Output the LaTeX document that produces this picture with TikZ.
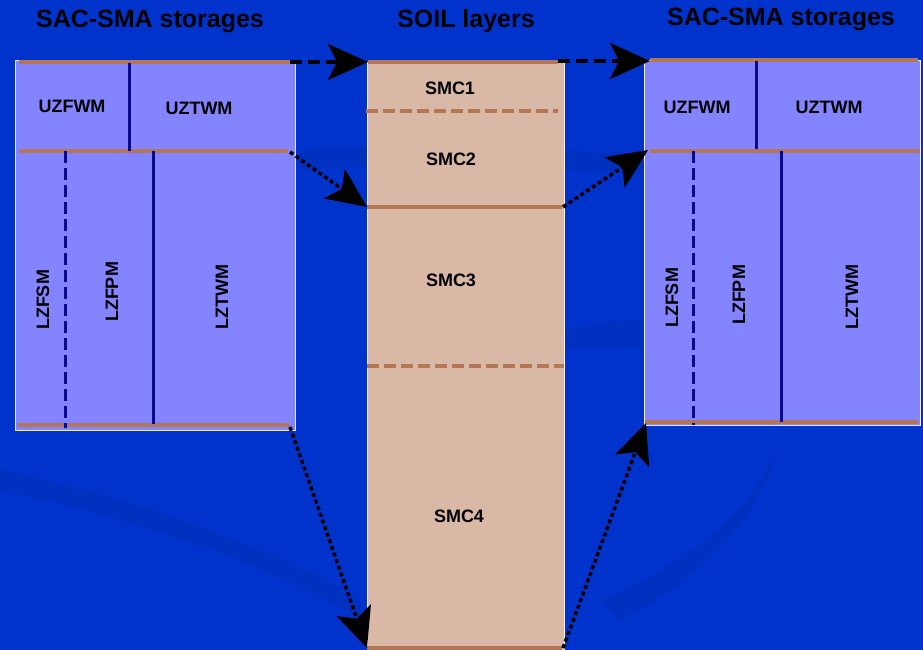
\documentclass[tikz,border=0pt]{standalone}
\usepackage{fontspec}
\setmainfont{Liberation Sans}
\usetikzlibrary{arrows.meta}
\definecolor{bg}{HTML}{0033CC}
\definecolor{bgdark}{HTML}{0030C0}
\definecolor{storefill}{HTML}{8484FF}
\definecolor{soilfill}{HTML}{D9B8A6}
\definecolor{brownline}{HTML}{B47656}
\definecolor{navyline}{HTML}{0A0A8C}
\tikzset{
  storebox/.style={draw=white!85!storefill, line width=1pt, fill=storefill, anchor=north west, inner sep=0pt},
  soilbox/.style={draw=white!80!soilfill, line width=1pt, fill=soilfill, anchor=north west, inner sep=0pt},
  layerline/.style={draw=brownline, line width=3.5pt},
  layerdash/.style={draw=brownline, line width=3.5pt, dash pattern=on 12pt off 5pt},
  divline/.style={draw=navyline, line width=3pt},
  divdash/.style={draw=navyline, line width=3pt, dash pattern=on 12pt off 5pt},
  title/.style={font=\bfseries\fontsize{25}{28}\selectfont, text=black, inner sep=0pt},
  lbl/.style={font=\bfseries\fontsize{18}{20}\selectfont, text=black, inner sep=0pt},
  vlbl/.style={lbl, rotate=90},
  bigtip/.style={-{Stealth[length=40pt,width=36pt,inset=9pt]}},
  flowdash/.style={bigtip, line width=3.5pt, black, dash pattern=on 12pt off 6pt},
  flowdot/.style={bigtip, line width=3.5pt, black, dash pattern=on 4pt off 3pt},
}
\begin{document}
\begin{tikzpicture}[x=1pt,y=-1pt]
\useasboundingbox (0,0) rectangle (923,650);
\fill[bg] (0,0) rectangle (923,650);
% subtle background swooshes
\fill[bgdark] (560,330) .. controls (700,300) and (860,330) .. (923,380) -- (923,420) .. controls (850,360) and (700,340) .. (560,350) -- cycle;
\fill[bgdark] (600,600) .. controls (700,560) and (760,500) .. (780,440) .. controls (760,520) and (700,580) .. (620,620) -- cycle;
\fill[bgdark] (0,470) .. controls (150,500) and (300,560) .. (360,600) -- (360,620) .. controls (300,580) and (150,520) .. (0,490) -- cycle;
\fill[bgdark] (300,150) .. controls (400,140) and (600,150) .. (923,170) -- (923,190) .. controls (600,170) and (400,160) .. (300,170) -- cycle;

% titles
\node[title] (tL) at (150,21) {SAC-SMA storages};
\node[title] (tM) at (466,21) {SOIL layers};
\node[title] (tR) at (781,19) {SAC-SMA storages};

% boxes
\node[storebox, minimum width=280pt, minimum height=370pt] (L) at (15,60) {};
\node[soilbox, minimum width=197pt, minimum height=592pt] (M) at (367,62) {};
\node[storebox, minimum width=276pt, minimum height=365pt] (R) at (644,60) {};

% left storage lines
\draw[layerline] (19,62) -- (290,62);
\draw[layerline] (19,151) -- (288,151);
\draw[layerline] (17,425) -- (290,425);
\draw[divline] (129,63) -- (129,151);
\draw[divdash] (65,151) -- (65,428);
\draw[divline] (153,151) -- (153,424);

% soil lines
\draw[layerline] (368,62) -- (558,62);
\draw[layerdash] (366,111) -- (558,111);
\draw[layerline] (367,207) -- (562,207);
\draw[layerdash] (367,366) -- (564,366);
\draw[layerline] (367,648) -- (562,648);

% right storage lines
\draw[layerline] (650,60) -- (918,60);
\draw[layerline] (650,151) -- (920,151);
\draw[layerline] (645,422) -- (918,422);
\draw[divline] (756,61) -- (756,149);
\draw[divdash] (693,151) -- (693,425);
\draw[divline] (781,151) -- (781,422);

% labels
\node[lbl] (uzfL) at (72,106) {UZFWM};
\node[lbl] (uztL) at (199,108) {UZTWM};
\node[vlbl] (lzfsL) at (43,300) {LZFSM};
\node[vlbl] (lzfpL) at (112,292) {LZFPM};
\node[vlbl] (lztL) at (222,297) {LZTWM};

\node[lbl] (s1) at (450,88) {SMC1};
\node[lbl] (s2) at (451,159) {SMC2};
\node[lbl] (s3) at (451,280) {SMC3};
\node[lbl] (s4) at (459,516) {SMC4};

\node[lbl] (uzfR) at (697,107) {UZFWM};
\node[lbl] (uztR) at (829,107) {UZTWM};
\node[vlbl] (lzfsR) at (672,298) {LZFSM};
\node[vlbl] (lzfpR) at (739,295) {LZFPM};
\node[vlbl] (lztR) at (852,297) {LZTWM};

% connector endpoints
\coordinate (a1s) at (290,62);  \coordinate (a1e) at (368,62);
\coordinate (a2s) at (558,61);  \coordinate (a2e) at (650,61);
\coordinate (a3s) at (290,152); \coordinate (a3e) at (367,207);
\coordinate (a4s) at (563,207); \coordinate (a4e) at (648,150);
\coordinate (a5s) at (290,427); \coordinate (a5e) at (367,648);
\coordinate (a6s) at (563,648); \coordinate (a6e) at (646,423);

\draw[flowdash] (a1s) -- (a1e);
\draw[flowdash] (a2s) -- (a2e);
\draw[flowdot] (a3s) -- (a3e);
\draw[flowdot] (a4s) -- (a4e);
\draw[flowdot] (a5s) -- (a5e);
\draw[flowdot] (a6s) -- (a6e);
\end{tikzpicture}
\end{document}
